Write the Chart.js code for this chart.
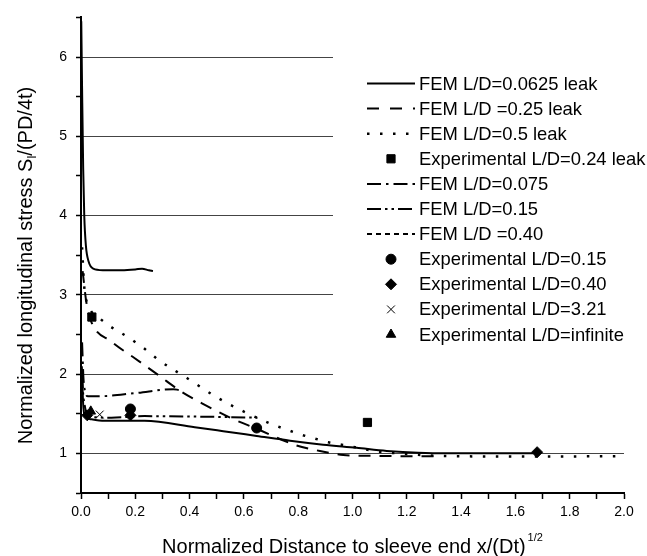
<!DOCTYPE html>
<html>
<head>
<meta charset="utf-8">
<script src="https://cdn.jsdelivr.net/npm/chart.js@4/dist/chart.umd.min.js"></script>
<style>body{margin:0;background:#fff}canvas{display:block}</style>
</head>
<body>
<canvas id="chart" width="647" height="556"></canvas>
<script>
const FONT = '"Liberation Sans", Arial, Helvetica, sans-serif';

// FEM curves, [x, y]
const fem0625Leak = [[0.001,6.45],[0.004,5.6],[0.008,4.6],[0.012,4.0],[0.018,3.62],[0.028,3.42],[0.045,3.33],[0.08,3.31],[0.15,3.31],[0.2,3.32],[0.225,3.33],[0.25,3.31],[0.265,3.3]];
const fem025Leak = [[0.006,3.3],[0.02,2.9],[0.038,2.66],[0.112,2.41],[0.198,2.2],[0.284,1.99],[0.369,1.78],[0.463,1.6],[0.549,1.45],[0.647,1.31],[0.794,1.1],[0.88,1.03],[0.966,0.98],[1.05,0.97],[1.2,0.965],[1.3,0.965]];
const fem05Leak = [[0.004,3.6],[0.012,3.1],[0.027,2.87],[0.07,2.7],[0.18,2.45],[0.23,2.33],[0.285,2.18],[0.39,1.95],[0.494,1.72],[0.546,1.62],[0.598,1.53],[0.702,1.37],[0.757,1.3],[0.807,1.24],[0.858,1.19],[0.911,1.14],[0.96,1.11],[1.1,1.02],[1.17,1.0],[1.27,0.975],[1.35,0.965],[1.7,0.96],[2.0,0.965]];
const fem075 = [[0.004,2.4],[0.01,1.9],[0.026,1.72],[0.063,1.72],[0.2,1.76],[0.34,1.81],[0.36,1.8]];
const fem015 = [[0.004,2.0],[0.008,1.75],[0.014,1.6],[0.022,1.49],[0.04,1.46],[0.112,1.45],[0.234,1.47],[0.406,1.465],[0.65,1.45]];
const fem040 = [[0.003,2.1],[0.008,1.62],[0.014,1.48],[0.038,1.43],[0.087,1.41],[0.234,1.41],[0.419,1.33],[0.524,1.28],[0.647,1.22],[0.77,1.16],[0.892,1.11],[1.015,1.07],[1.126,1.03],[1.347,1.0],[1.665,1.0]];

// experimental points
const exp024Leak = [[0.04,2.72],[1.055,1.39]];
const exp015 = [[0.182,1.56],[0.647,1.32]];
const exp040 = [[0.023,1.48],[0.182,1.48],[1.68,1.015]];
const exp321 = [[0.069,1.49]];
const expInf = [[0.036,1.53]];

const xy = pts => pts.map(([x, y]) => ({ x, y }));
const line = (label, pts, dash, extra = {}) => ({
  label, data: xy(pts), showLine: true, borderColor: '#000', borderWidth: 2, borderDash: dash,
  borderCapStyle: 'butt', pointRadius: 0, pointHoverRadius: 0, fill: false,
  cubicInterpolationMode: 'monotone', order: 1, ...extra,
});
const marks = (label, pts, style, r) => ({
  label, data: xy(pts), showLine: false, pointStyle: style, pointRadius: r, pointHoverRadius: r,
  backgroundColor: '#000', borderColor: '#000', pointBorderWidth: 1, order: 0,
});

const datasets = [
  line('FEM L/D=0.0625 leak', fem0625Leak, []),
  line('FEM L/D =0.25 leak', fem025Leak, [12, 9], { legendDash: [12, 11] }),
  line('FEM L/D=0.5 leak', fem05Leak, [2.5, 10.5], { borderWidth: 2.5 }),
  marks('Experimental L/D=0.24 leak', exp024Leak, 'rect', 5.8),
  line('FEM L/D=0.075', fem075, [14, 5, 2.5, 5]),
  line('FEM L/D=0.15', fem015, [14, 4, 2.5, 4, 2.5, 4]),
  line('FEM L/D =0.40', fem040, [], { legendDash: [5, 4] }),
  marks('Experimental L/D=0.15', exp015, 'circle', 5),
  marks('Experimental L/D=0.40', exp040, 'rectRot', 5.5),
  marks('Experimental L/D=3.21', exp321, 'crossRot', 5.5),
  marks('Experimental L/D=infinite', expInf, 'triangle', 5.5),
];

const overlay = {
  id: 'overlay',
  beforeDatasetsDraw(chart) {
    // legend panel hides the grid lines behind it
    const { ctx, chartArea } = chart;
    ctx.save();
    ctx.fillStyle = '#fff';
    ctx.fillRect(333, chartArea.top + 1, chart.width - 333, 400 - chartArea.top);
    ctx.restore();
  },
  afterDraw(chart) {
    const ctx = chart.ctx;
    ctx.save();
    ctx.fillStyle = '#000'; ctx.strokeStyle = '#000';
    ctx.font = '18.4px ' + FONT;
    ctx.textBaseline = 'middle';
    chart.data.datasets.forEach((ds, i) => {
      const y = 83.5 + i * 25.1;
      if (ds.showLine) {
        ctx.beginPath();
        ctx.setLineDash(ds.legendDash || ds.borderDash || []);
        ctx.lineWidth = ds.borderWidth;
        ctx.moveTo(367, y); ctx.lineTo(415, y);
        ctx.stroke();
        ctx.setLineDash([]);
      } else {
        ctx.lineWidth = 1;
        Chart.helpers.drawPoint(ctx, { pointStyle: ds.pointStyle, radius: ds.pointRadius, rotation: 0, borderWidth: 1 }, 391, y);
      }
      ctx.fillText(ds.label, 419, y + 1);
    });

    // axis titles with sub/superscripts
    ctx.textBaseline = 'alphabetic';
    ctx.textAlign = 'left';
    const big = '20px ' + FONT, small = '11px ' + FONT;
    ctx.font = big;
    const xMain = 'Normalized Distance to sleeve end x/(Dt)';
    const wMain = ctx.measureText(xMain).width;
    ctx.font = small;
    const wSup = ctx.measureText('1/2').width;
    let x0 = 352.5 - (wMain + wSup + 2) / 2;
    ctx.font = big; ctx.fillText(xMain, x0, 553);
    ctx.font = small; ctx.fillText('1/2', x0 + wMain + 2, 541);

    ctx.translate(32, 265.5);
    ctx.rotate(-Math.PI / 2);
    const parts = [['Normalized longitudinal stress S', big, 0], ['l', '13px ' + FONT, 4], ['/(PD/4t)', big, 0]];
    let total = 0;
    parts.forEach(p => { ctx.font = p[1]; p.push(ctx.measureText(p[0]).width); total += p[3]; });
    let px = -total / 2;
    parts.forEach(p => { ctx.font = p[1]; ctx.fillText(p[0], px, p[2]); px += p[3]; });
    ctx.restore();
  },
};

new Chart(document.getElementById('chart'), {
  type: 'scatter',
  data: { datasets },
  plugins: [overlay],
  options: {
    responsive: false,
    animation: false,
    events: [],
    layout: { padding: { top: 13, right: 23, left: 0, bottom: 0 } },
    plugins: { legend: { display: false }, tooltip: { enabled: false } },
    scales: {
      x: {
        type: 'linear', min: 0, max: 2,
        afterBuildTicks: s => { s.ticks = Array.from({ length: 21 }, (_, i) => ({ value: i / 10 })); },
        afterFit: s => { s.height = 63; },
        ticks: {
          autoSkip: false, maxRotation: 0, padding: 5, color: '#000',
          font: { size: 14, family: FONT },
          callback: v => Math.round(v * 10) % 2 === 0 ? v.toFixed(1) : '',
        },
        grid: { drawOnChartArea: false, drawTicks: true, tickLength: 6, tickColor: '#000', tickWidth: 1.5 },
        border: { color: '#000', width: 2 },
      },
      y: {
        type: 'linear', min: 0.5, max: 6.5,
        afterBuildTicks: s => { s.ticks = Array.from({ length: 13 }, (_, i) => ({ value: 0.5 + i / 2 })); },
        afterFit: s => { s.width = 81; },
        ticks: {
          padding: 9, color: '#000',
          font: { size: 14, family: FONT },
          callback: v => Number.isInteger(v) && v >= 1 ? String(v) : '',
        },
        grid: {
          color: c => (c.tick && Number.isInteger(c.tick.value) && c.tick.value >= 1) ? '#444' : 'rgba(0,0,0,0)',
          lineWidth: 1, tickLength: 5, tickColor: '#000', tickWidth: 1.5,
        },
        border: { color: '#000', width: 2 },
      },
    },
  },
});
</script>
</body>
</html>
